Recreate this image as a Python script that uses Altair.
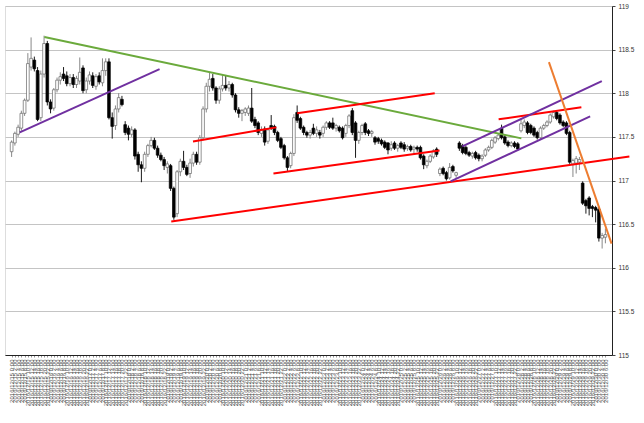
import json
import altair as alt
import pandas as pd

# ---- candle data (USD/JPY style prices) ----
opens = [
    117.33,117.43,117.53,117.60,117.77,117.92,118.30,118.38,118.26,117.72,
    118.22,118.57,117.90,117.83,118.04,118.15,118.22,118.20,118.11,118.18,
    118.10,118.14,118.29,118.04,118.14,118.20,118.08,118.20,118.12,118.26,
    118.36,117.72,117.63,117.82,117.93,117.64,117.60,117.53,117.58,117.30,
    117.18,117.14,117.30,117.40,117.46,117.37,117.29,117.24,117.15,117.17,
    116.91,116.62,117.10,117.22,117.15,117.08,117.20,117.30,117.21,117.49,
    117.82,118.08,118.17,118.06,117.92,118.05,118.09,118.06,118.10,117.98,
    117.81,117.77,117.78,117.77,117.83,117.70,117.66,117.54,117.59,117.45,
    117.63,117.62,117.55,117.48,117.40,117.26,117.17,117.31,117.78,117.71,
    117.61,117.55,117.52,117.60,117.54,117.55,117.54,117.61,117.66,117.66,
    117.60,117.61,117.60,117.54,117.63,117.80,117.66,117.46,117.55,117.65,
    117.57,117.54,117.49,117.48,117.46,117.44,117.43,117.37,117.43,117.37,
    117.43,117.41,117.37,117.39,117.36,117.38,117.38,117.28,117.17,117.22,
    117.27,117.36,117.08,117.14,117.09,117.03,117.16,117.06,117.43,117.40,
    117.38,117.32,117.28,117.32,117.29,117.25,117.29,117.35,117.38,117.44,
    117.48,117.60,117.50,117.44,117.40,117.43,117.42,117.57,117.63,117.66,
    117.63,117.60,117.55,117.49,117.60,117.63,117.67,117.73,117.78,117.75,
    117.67,117.66,117.55,117.19,117.20,117.21,116.97,116.77,116.80,116.70,
    116.69,116.67,116.34,116.35,
]
highs = [
    117.46,117.56,117.64,117.80,117.94,118.46,118.64,118.42,118.30,118.26,
    118.66,118.60,117.93,118.06,118.18,118.24,118.30,118.25,118.22,118.22,
    118.20,118.41,118.32,118.18,118.25,118.24,118.22,118.24,118.40,118.40,
    118.40,117.78,117.86,118.00,117.97,117.68,117.63,117.62,117.60,117.33,
    117.22,117.33,117.42,117.50,117.49,117.40,117.32,117.27,117.22,117.19,
    116.93,117.12,117.25,117.34,117.18,117.25,117.33,117.33,117.52,117.85,
    118.12,118.24,118.22,118.08,118.08,118.22,118.20,118.14,118.12,118.00,
    117.84,117.82,117.84,117.86,118.06,117.73,117.68,117.62,117.62,117.60,
    117.75,117.64,117.57,117.50,117.42,117.28,117.33,117.76,117.86,117.73,
    117.63,117.57,117.58,117.65,117.62,117.58,117.63,117.68,117.68,117.72,
    117.65,117.63,117.62,117.65,117.76,117.83,117.68,117.57,117.65,117.67,
    117.59,117.58,117.51,117.50,117.48,117.46,117.44,117.45,117.45,117.42,
    117.45,117.44,117.41,117.41,117.40,117.40,117.40,117.30,117.24,117.30,
    117.36,117.38,117.15,117.16,117.11,117.20,117.18,117.10,117.45,117.42,
    117.40,117.34,117.33,117.34,117.31,117.30,117.37,117.40,117.48,117.51,
    117.54,117.64,117.52,117.46,117.45,117.45,117.44,117.71,117.70,117.68,
    117.65,117.62,117.57,117.62,117.65,117.69,117.77,117.80,117.80,117.77,
    117.69,117.68,117.57,117.25,117.28,117.27,116.99,116.79,116.82,116.72,
    116.71,116.70,116.40,116.45,
]
lows = [
    117.27,117.40,117.50,117.57,117.74,117.90,118.26,118.25,117.68,117.68,
    118.18,117.86,117.77,117.80,118.01,118.10,118.14,118.08,118.08,118.06,
    118.06,118.10,118.00,118.00,118.10,118.06,118.04,118.10,118.08,118.20,
    117.70,117.48,117.58,117.78,117.85,117.52,117.46,117.50,117.24,117.10,
    116.98,117.10,117.27,117.38,117.35,117.26,117.22,117.12,117.08,116.88,
    116.55,116.58,117.05,117.12,117.05,117.03,117.16,117.18,117.18,117.46,
    117.78,118.02,118.03,117.88,117.88,118.02,118.03,118.02,117.95,117.78,
    117.72,117.68,117.74,117.74,117.66,117.60,117.52,117.50,117.40,117.42,
    117.58,117.52,117.44,117.36,117.24,117.11,117.14,117.28,117.66,117.58,
    117.52,117.49,117.48,117.52,117.50,117.48,117.50,117.58,117.59,117.58,
    117.56,117.55,117.47,117.50,117.60,117.52,117.26,117.42,117.52,117.52,
    117.51,117.50,117.41,117.42,117.40,117.36,117.30,117.34,117.35,117.33,
    117.36,117.33,117.34,117.33,117.30,117.33,117.24,117.13,117.14,117.20,
    117.25,117.27,117.05,117.06,117.00,117.01,117.09,117.03,117.34,117.30,
    117.29,117.27,117.25,117.24,117.22,117.22,117.27,117.33,117.36,117.42,
    117.46,117.47,117.41,117.38,117.38,117.37,117.34,117.55,117.60,117.53,
    117.53,117.50,117.47,117.47,117.58,117.61,117.65,117.71,117.69,117.64,
    117.61,117.52,117.19,117.04,117.08,117.12,116.72,116.62,116.60,116.58,
    116.52,116.30,116.22,116.28,
]
closes = [
    117.44,117.54,117.61,117.77,117.92,118.34,118.40,118.28,117.70,118.22,
    118.57,117.90,117.82,118.04,118.15,118.19,118.17,118.11,118.18,118.10,
    118.17,118.24,118.03,118.14,118.21,118.09,118.19,118.13,118.26,118.36,
    117.72,117.62,117.82,117.95,117.87,117.55,117.53,117.58,117.28,117.18,
    117.14,117.30,117.40,117.46,117.37,117.29,117.24,117.17,117.19,116.91,
    116.58,117.10,117.22,117.15,117.07,117.20,117.30,117.21,117.49,117.82,
    118.08,118.16,118.06,117.92,118.05,118.09,118.06,118.10,117.98,117.81,
    117.77,117.80,117.82,117.83,117.68,117.63,117.55,117.58,117.44,117.58,
    117.60,117.55,117.46,117.38,117.26,117.15,117.31,117.72,117.69,117.60,
    117.55,117.52,117.55,117.54,117.58,117.52,117.61,117.66,117.61,117.60,
    117.63,117.57,117.49,117.63,117.74,117.55,117.46,117.55,117.63,117.55,
    117.54,117.56,117.44,117.45,117.42,117.38,117.35,117.41,117.37,117.40,
    117.38,117.36,117.39,117.35,117.38,117.36,117.26,117.18,117.22,117.28,
    117.34,117.30,117.13,117.08,117.02,117.15,117.11,117.09,117.37,117.32,
    117.31,117.29,117.31,117.26,117.25,117.28,117.35,117.38,117.46,117.49,
    117.52,117.49,117.43,117.40,117.43,117.39,117.36,117.65,117.67,117.55,
    117.55,117.52,117.49,117.60,117.63,117.67,117.75,117.78,117.71,117.66,
    117.63,117.54,117.21,117.23,117.25,117.24,116.74,116.71,116.68,116.68,
    116.66,116.34,116.37,116.38,
]

# ---- x tick labels (one per candle) ----
label_start = "2016-12-15 00:00"
label_step = "2h"
times = pd.date_range(label_start, periods=len(opens), freq=label_step)
labels = [f"{t.year}/{t.month}/{t.day} {t.hour}:00" for t in times]

# ---- y ticks ----
y_ticks = [115, 115.5, 116, 116.5, 117, 117.5, 118, 118.5, 119]

# ---- trend lines: (id, candle index, price, colour) ----
line_ids = ["g", "g", "p1", "p1", "r1", "r1", "r2", "r2", "r3", "r3",
            "r4", "r4", "r5", "r5", "p2", "p2", "p3", "p3", "o", "o"]
line_x = [10.1, 157.1, 2.5, 45.6, 55.9, 81.6, 49.2, 190.4, 80.7, 131.9,
          88.0, 130.4, 150.1, 175.6, 138.9, 181.9, 135.3, 178.3, 165.6, 184.9]
line_p = [118.644, 117.483, 117.552, 118.276, 117.448, 117.609, 116.529, 117.276,
          117.080, 117.345, 117.770, 118.000, 117.701, 117.839, 117.391, 118.138,
          116.989, 117.736, 118.356, 116.276]
line_col = ["#6BAA3C"] * 2 + ["#7030A0"] * 2 + ["#FF0000"] * 10 + ["#7030A0"] * 4 + ["#ED7D31"] * 2

n = len(opens)
df = pd.DataFrame({"i": list(range(n)), "o": opens, "h": highs, "l": lows, "c": closes})
lines = pd.DataFrame({"lid": line_ids, "i": line_x, "p": line_p, "col": line_col})

FONT = "Liberation Sans"
x_scale = alt.Scale(domain=[-0.5, n - 0.5], nice=False, zero=False)
y_scale = alt.Scale(domain=[115, 119], nice=False, zero=False)

label_expr = json.dumps(labels) + "[datum.value]"
x_axis = alt.Axis(values=list(range(n)), labelExpr=label_expr, labelAngle=270,
                  labelFontSize=6, labelFont=FONT, labelColor="#555555",
                  labelOverlap=False, labelPadding=2, labelFlush=False, labelBound=False,
                  tickSize=2, tickColor="#999999", domainColor="#222222", grid=False)
y_axis = alt.Axis(orient="right", values=y_ticks, format="~g", grid=True, gridColor="#c4c4c4",
                  gridWidth=1, tickSize=3, tickColor="#444444", domainColor="#222222",
                  labelFontSize=6.5, labelFont=FONT, labelColor="#333333", labelPadding=3)

up = "datum.c >= datum.o"
wick = alt.Chart(df).mark_rule(strokeWidth=0.9).encode(
    x=alt.X("i:Q", scale=x_scale, axis=x_axis, title=None),
    y=alt.Y("l:Q", scale=y_scale, axis=y_axis, title=None),
    y2="h:Q",
    color=alt.condition(up, alt.value("#7a7a7a"), alt.value("#000000")),
)
body = alt.Chart(df).mark_bar(size=2.7, strokeWidth=0.7).encode(
    x=alt.X("i:Q", scale=x_scale, axis=x_axis, title=None),
    y=alt.Y("o:Q", scale=y_scale, axis=y_axis, title=None),
    y2="c:Q",
    fill=alt.condition(up, alt.value("#ffffff"), alt.value("#000000")),
    stroke=alt.condition(up, alt.value("#666666"), alt.value("#000000")),
)
trend = alt.Chart(lines).mark_line(strokeWidth=2, clip=False).encode(
    x=alt.X("i:Q", scale=x_scale, axis=x_axis, title=None),
    y=alt.Y("p:Q", scale=y_scale, axis=y_axis, title=None),
    detail="lid:N",
    color=alt.Color("col:N", scale=None),
)

chart = alt.layer(wick, body, trend).properties(
    width=607, height=349,
    autosize=alt.AutoSizeParams(type="none"),
    padding={"left": 5, "top": 6, "right": 32, "bottom": 68},
).configure_view(stroke="#9a9a9a", strokeWidth=1).configure(background="#ffffff")

chart.save("out.html", embed_options={"renderer": "svg", "actions": False})
